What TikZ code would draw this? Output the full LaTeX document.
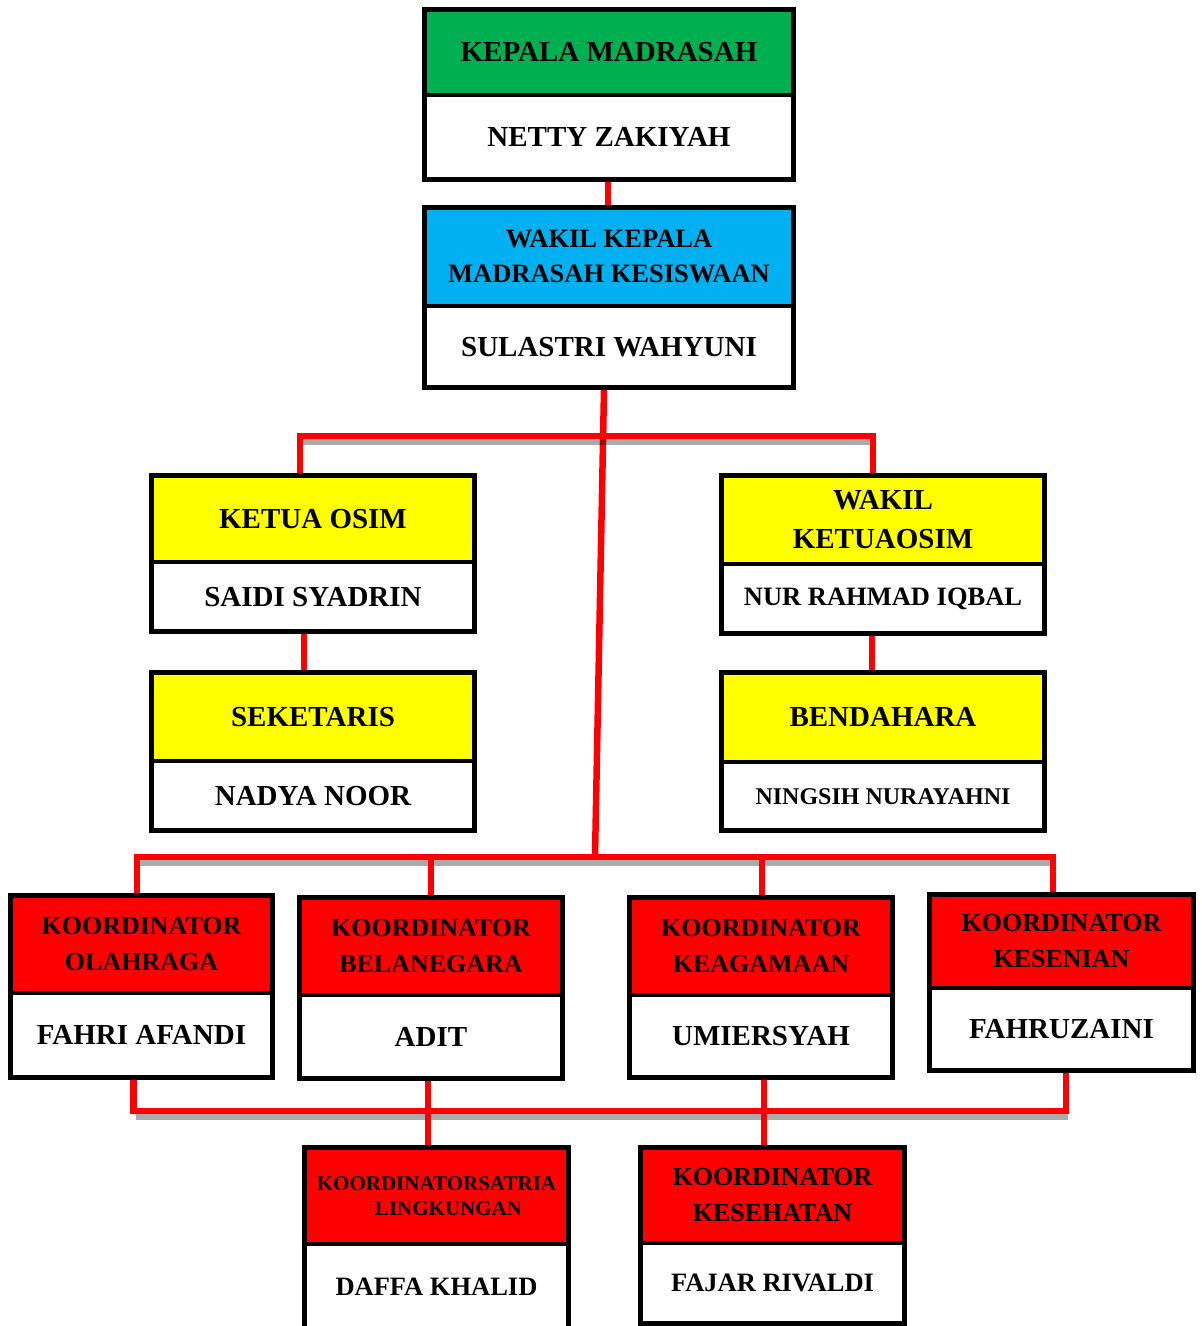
\documentclass[tikz,border=0pt]{standalone}
\usepackage{fontspec}
\setmainfont{Liberation Serif}
\usetikzlibrary{backgrounds}
\definecolor{kgreen}{HTML}{00B050}
\definecolor{kblue}{HTML}{00B0F0}
\definecolor{kyellow}{HTML}{FFFF00}
\definecolor{kred}{HTML}{FF0000}
\newcommand\fsz[2]{\fontsize{#1}{#2}\selectfont\bfseries}
\begin{document}
\begin{tikzpicture}[x=1pt,y=-1pt,
  bx/.style={draw=black, line width=4.5pt, inner sep=0pt, align=center, text=black, fill=white},
  conn/.style={draw=kred, line width=6.5pt, line join=miter},
  shd/.style={draw=black, draw opacity=0.33, line width=6pt}]
\clip (0,0) rectangle (1202,1326);
\useasboundingbox (0,0) rectangle (1202,1326);

% top
\node[bx, fill=kgreen, minimum width=369pt, minimum height=85.5pt, font=\fsz{29}{35}] (kepT) at (609,52.25) {KEPALA MADRASAH};
\node[bx, minimum width=369pt, minimum height=84.5pt, font=\fsz{29}{35}] (kepB) at (609,137.25) {NETTY ZAKIYAH};
\node[bx, fill=kblue, minimum width=369pt, minimum height=98.5pt, font=\fsz{26.5}{35}] (wakT) at (609,256.75) {WAKIL KEPALA\\MADRASAH KESISWAAN};
\node[bx, minimum width=369pt, minimum height=81.5pt, font=\fsz{29}{35}] (wakB) at (609,346.75) {SULASTRI WAHYUNI};

% OSIM
\node[bx, fill=kyellow, minimum width=323pt, minimum height=86.5pt, font=\fsz{29}{35}] (ketT) at (313,518.75) {KETUA OSIM};
\node[bx, minimum width=323pt, minimum height=69.5pt, font=\fsz{29}{35}] (ketB) at (313,596.75) {SAIDI SYADRIN};
\node[bx, fill=kyellow, minimum width=323pt, minimum height=88.5pt, font=\fsz{29}{39}] (wkT) at (883,519.75) {WAKIL\\KETUAOSIM};
\node[bx, minimum width=323pt, minimum height=69.5pt, font=\fsz{26.5}{32}] (wkB) at (883,598.75) {NUR RAHMAD IQBAL};
\node[bx, fill=kyellow, minimum width=323pt, minimum height=88.5pt, font=\fsz{29}{35}] (sekT) at (313,716.75) {SEKETARIS};
\node[bx, minimum width=323pt, minimum height=69.5pt, font=\fsz{29}{35}] (sekB) at (313,795.75) {NADYA NOOR};
\node[bx, fill=kyellow, minimum width=323pt, minimum height=89.5pt, font=\fsz{29}{35}] (benT) at (883,717.25) {BENDAHARA};
\node[bx, minimum width=323pt, minimum height=68.5pt, font=\fsz{24}{29}] (benB) at (883,796.25) {NINGSIH NURAYAHNI};

% koordinator row
\node[bx, fill=kred, minimum width=262pt, minimum height=97.5pt, font=\fsz{26}{36}] (olT) at (141.5,944.25) {KOORDINATOR\\OLAHRAGA};
\node[bx, minimum width=262pt, minimum height=84.5pt, font=\fsz{29}{35}] (olB) at (141.5,1035.25) {FAHRI AFANDI};
\node[bx, fill=kred, minimum width=263pt, minimum height=97.5pt, font=\fsz{26}{36}] (belT) at (431,946.25) {KOORDINATOR\\BELANEGARA};
\node[bx, minimum width=263pt, minimum height=83.5pt, font=\fsz{29}{35}] (belB) at (431,1036.75) {ADIT};
\node[bx, fill=kred, minimum width=263pt, minimum height=97.5pt, font=\fsz{26}{36}] (keaT) at (761,946.25) {KOORDINATOR\\KEAGAMAAN};
\node[bx, minimum width=263pt, minimum height=82.5pt, font=\fsz{29}{35}] (keaB) at (761,1036.25) {UMIERSYAH};
\node[bx, fill=kred, minimum width=264pt, minimum height=93.5pt, font=\fsz{26}{36}] (kesT) at (1061.5,941.25) {KOORDINATOR\\KESENIAN};
\node[bx, minimum width=264pt, minimum height=82.5pt, font=\fsz{29}{35}] (kesB) at (1061.5,1029.25) {FAHRUZAINI};

% bottom row
\node[bx, fill=kred, minimum width=264pt, minimum height=96.5pt, font=\fsz{21}{25}] (satT) at (436.5,1195.75) {KOORDINATORSATRIA\\\hspace*{24pt}LINGKUNGAN};
\node[bx, minimum width=264pt, minimum height=86pt, font=\fsz{26.5}{32}] (satB) at (436.5,1287) {DAFFA KHALID};
\node[bx, fill=kred, minimum width=264pt, minimum height=95.5pt, font=\fsz{26}{36}] (sehT) at (772.5,1195.25) {KOORDINATOR\\KESEHATAN};
\node[bx, minimum width=264pt, minimum height=80.5pt, font=\fsz{26.5}{32}] (sehB) at (772.5,1283.25) {FAJAR RIVALDI};

% junction coordinates
\coordinate (j1L) at (300,436);
\coordinate (j1R) at (873,436);
\coordinate (j2C) at (595,857);
\coordinate (j2L) at (137,857);
\coordinate (j2R) at (1053,857);
\coordinate (j3L) at (133.5,1111);
\coordinate (j3R) at (1066,1111);
\coordinate (j3a) at (428,1111);
\coordinate (j3b) at (764,1111);

\begin{pgfonlayer}{background}
\fill[white] (0,0) rectangle (1202,1326);
% central trunk
\draw[conn] ([xshift=-5pt]wakB.south) -- (j2C);
% shadows
\draw[shd] ([xshift=2pt,yshift=-6pt]j1L) -- ([xshift=2pt,yshift=-6pt]j1R);
\draw[shd] ([xshift=2pt,yshift=-6pt]j2L) -- ([xshift=2pt,yshift=-6pt]j2R);
\draw[shd] ([xshift=2pt,yshift=-6pt]j3L) -- ([xshift=2pt,yshift=-6pt]j3R);
% connectors
\draw[conn] ([xshift=-1pt]kepB.south) -- ([xshift=-1pt]wakT.north);
\draw[conn] (ketT.north -| j1L) |- (j1R) -- (j1R |- wkT.north);
\draw[conn] ([xshift=-9pt]ketB.south) -- ([xshift=-9pt]sekT.north);
\draw[conn] ([xshift=-11pt]wkB.south) -- ([xshift=-11pt]benT.north);
\draw[conn] (olT.north -| j2L) |- (j2R) -- (j2R |- kesT.north);
\draw[conn] (belT.north) -- (belT.north |- j2L);
\draw[conn] ([xshift=1pt]keaT.north) -- ([xshift=1pt]keaT.north |- j2L);
\draw[conn] (olB.south -| j3L) |- (j3R) -- (j3R |- kesB.south);
\draw[conn] (belB.south -| j3a) -- (satT.north -| j3a);
\draw[conn] (keaB.south -| j3b) -- (sehT.north -| j3b);
\end{pgfonlayer}
\end{tikzpicture}
\end{document}
